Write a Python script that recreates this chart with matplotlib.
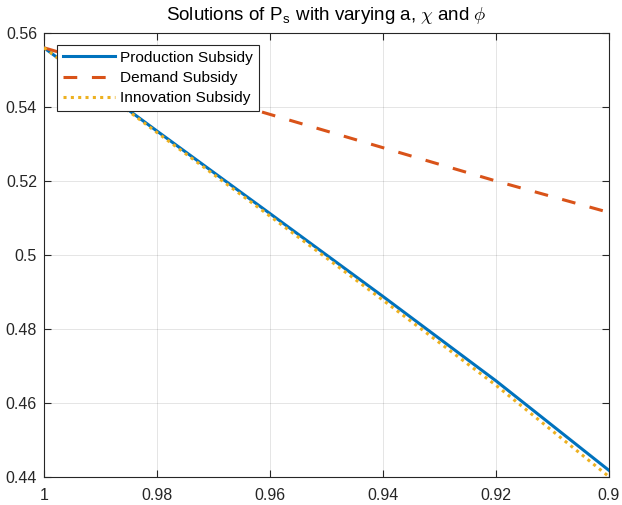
import matplotlib
matplotlib.use("Agg")
import matplotlib.pyplot as plt
from matplotlib.ticker import FixedLocator, FuncFormatter

x = [1.0, 0.98, 0.96, 0.95, 0.94, 0.92, 0.90]
production = [0.556, 0.5335, 0.5112, 0.5000, 0.4888, 0.4660, 0.4418]
demand = [0.556, 0.5470, 0.5380, 0.5335, 0.5290, 0.5200, 0.5115]
innovation = [0.556, 0.5331, 0.5105, 0.4992, 0.4878, 0.4648, 0.4401]

xticks = [1.0, 0.98, 0.96, 0.94, 0.92, 0.90]
yticks = [0.44, 0.46, 0.48, 0.50, 0.52, 0.54, 0.56]

plt.rcParams['font.family'] = ['Liberation Sans', 'DejaVu Sans']
plt.rcParams['mathtext.fontset'] = 'cm'

fig = plt.figure(figsize=(6.22, 5.05), dpi=100)
ax = fig.add_axes([0.0707, 0.0554, 0.9083, 0.8793])

ax.plot(x, production, color='#0072BD', lw=2.2, label='Production Subsidy', zorder=3)
ax.plot(x, demand, color='#D95319', lw=2.2, ls=(0, (4.5, 4.8)), label='Demand Subsidy', zorder=3)
ax.plot(x, innovation, color='#EDB120', lw=2.2, ls=(0, (1, 1.4)), label='Innovation Subsidy', zorder=4)

ax.set_xlim(1.0, 0.9)
ax.set_ylim(0.44, 0.56)
ax.xaxis.set_major_locator(FixedLocator(xticks))
ax.yaxis.set_major_locator(FixedLocator(yticks))
fmt = FuncFormatter(lambda v, p: ('%g' % round(v, 4)))
ax.xaxis.set_major_formatter(fmt)
ax.yaxis.set_major_formatter(fmt)
ax.tick_params(direction='in', top=True, right=True, length=5, width=0.8,
               labelsize=11.5, colors='#262626')
ax.tick_params(axis='x', pad=8)
ax.tick_params(axis='y', pad=5)
ax.grid(True, color='#000000', alpha=0.12, lw=0.6)
for s in ax.spines.values():
    s.set_color('#262626')
    s.set_linewidth(0.8)

ax.set_title(r'Solutions of P$_{\mathregular{s}}$ with varying a, $\chi$ and $\phi$',
             fontsize=13.5, color='#000000', pad=9)

leg = ax.legend(loc='upper left', bbox_to_anchor=(0.023, 0.973), fontsize=11.1,
                fancybox=False, framealpha=1, edgecolor='#262626',
                borderpad=0.36, labelspacing=0.42, handlelength=3.4,
                handletextpad=0.35, borderaxespad=0.0)
leg.get_frame().set_linewidth(0.8)

fig.savefig('out.png', dpi=100)
